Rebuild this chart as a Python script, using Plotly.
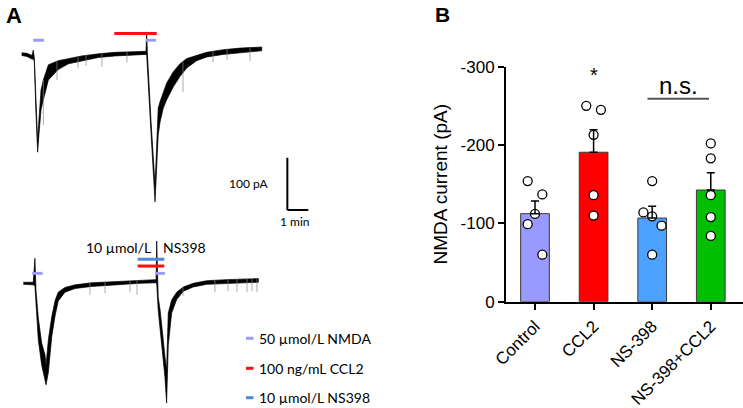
import numpy as np
import plotly.graph_objects as go

W, H = 743, 408

# ---------------- Panel A data: time (min) and current (pA) ----------------
top_t = [0.00, 0.25, 0.49, 0.55, 0.60, 0.68, 0.76, 0.82, 0.92, 1.03, 1.27, 1.74, 2.22, 2.86, 3.65,
         4.44, 5.30, 5.92, 5.95, 5.99, 6.16, 6.35, 6.42, 6.50, 6.59, 6.74, 6.90, 7.22, 7.54, 7.86,
         8.33, 8.81, 9.60, 10.40, 11.43]
top_hi = [-1, -2, -6, 4, -10, -99, -172, -130, -72, -53, -24, -16, -12, -7, -3,
          0, 1, 2, 39, -5, -133, -254, -187, -107, -94, -75, -59, -37, -22, -12,
          -6, 0, 5, 8, 10]
top_lo = [-6, -8, -13, -13, -17, -118, -191, -158, -110, -91, -53, -33, -22, -16, -10,
          -7, -5, -4, -4, -15, -156, -286, -225, -158, -133, -107, -91, -66, -46, -30,
          -16, -9, -4, -1, 3]
top_spike_t = [1.03, 1.68, 2.68, 3.06, 3.82, 5.01, 7.68, 9.11, 9.78, 10.87]
top_spike_pa = [-139, -53, -30, -26, -28, -19, -76, -19, -15, -17]

bot_t = [0.08, 0.55, 0.63, 0.68, 0.79, 0.95, 1.11, 1.16, 1.27, 1.43, 1.59, 1.74, 2.06, 2.54, 3.33,
         4.44, 5.63, 6.40, 6.43, 6.50, 6.59, 6.67, 6.74, 6.82, 6.90, 6.98, 7.14, 7.38, 7.70, 8.17,
         8.81, 9.76, 11.27]
bot_hi = [2, 2, 48, -13, -66, -114, -137, -156, -108, -64, -33, -17, -8, -3, 1,
          3, 6, 7, 81, -26, -51, -76, -108, -140, -166, -57, -32, -17, -7, 0,
          5, 7, 9]
bot_lo = [-2, -3, -5, -41, -108, -156, -185, -194, -170, -102, -62, -34, -17, -10, -6,
          -3, 0, 1, -1, -51, -76, -108, -147, -179, -229, -118, -57, -31, -15, -7,
          -2, 0, 2]
bot_spike_t = [3.25, 3.97, 5.16, 5.49, 7.68, 9.20, 9.82, 10.25, 10.73, 10.97, 11.20]
bot_spike_pa = [-22, -19, -17, -22, -24, -17, -15, -17, -17, -15, -17]

# drug applications (start, end) in min
top_nmda = [(0.55, 1.06), (5.90, 6.40)]
top_ccl2 = [(4.41, 6.43)]
bot_nmda = [(0.50, 1.00), (6.35, 6.82)]
bot_ccl2 = [(5.52, 6.79)]
bot_ns398 = [(5.52, 6.79)]

legend_labels = ["50 µmol/L NMDA", "100 ng/mL CCL2", "10 µmol/L NS398"]
ns_label = ["10 µmol/L", "NS398"]
scale_labels = ["100 pA", "1 min"]
SCALE_PA, SCALE_MIN = 100, 1

# ---------------- Panel B data: NMDA current (pA) ----------------
categories = ["Control", "CCL2", "NS-398", "NS-398+CCL2"]
control = [-154, -137, -112, -99, -60]
ccl2 = [-250, -245, -213, -136, -110]
ns398 = [-154, -114, -109, -97, -60]
ns398_ccl2 = [-202, -183, -136, -108, -84]
y_ticks = [0, -100, -200, -300]

# ---------------- styles / layout constants ----------------
NMDA_C, CCL2_C, NS_C = "#9C9CF2", "#FF1010", "#4F88DA"
BAR_COLORS = ["#9999FF", "#FF0000", "#4DA2FF", "#00BE00"]
JITTER = [[-0.125, 0.125, 0, -0.125, 0.125],
          [-0.125, 0.125, 0, 0, 0],
          [0, -0.15, 0, 0.16, 0],
          [0, 0, 0, 0, 0]]
FA = "Lato, Noto Sans, sans-serif"
FB = "Liberation Sans, Arial, sans-serif"


def px(x):
    return x / W


def py(y):
    return 1 - y / H


# panel A mapping
X0_PX, PX_PER_MIN, PX_PER_PA = 21.7, 21.0, 0.523
A_DOM_PX = 334.35
TOP_BASE, BOT_BASE, SPLIT = 52.3, 283.3, 215.0
xr_A = [(0 - X0_PX) / PX_PER_MIN, (A_DOM_PX - X0_PX) / PX_PER_MIN]
yr_top = [(TOP_BASE - SPLIT) / PX_PER_PA, (TOP_BASE - 0) / PX_PER_PA]
yr_bot = [(BOT_BASE - H) / PX_PER_PA, (BOT_BASE - SPLIT) / PX_PER_PA]

fig = go.Figure()


def add_trace(t, hi, lo, st, sp, xa, ya):
    fig.add_trace(go.Scatter(
        x=list(t) + list(t)[::-1], y=list(hi) + list(lo)[::-1],
        fill="toself", fillcolor="black", mode="lines",
        line=dict(color="black", width=0.7), xaxis=xa, yaxis=ya,
        hoverinfo="skip", showlegend=False))
    xs, ys = [], []
    for tt, pp in zip(st, sp):
        base = float(np.interp(tt, t, hi))
        xs += [tt, tt, None]
        ys += [base, pp, None]
    fig.add_trace(go.Scatter(x=xs, y=ys, mode="lines",
                             line=dict(color="#888", width=0.7),
                             xaxis=xa, yaxis=ya, hoverinfo="skip", showlegend=False))


add_trace(top_t, top_hi, top_lo, top_spike_t, top_spike_pa, "x", "y")
add_trace(bot_t, bot_hi, bot_lo, bot_spike_t, bot_spike_pa, "x2", "y2")

shapes = []


def drug(intervals, level, color, xr, yr):
    for a, b in intervals:
        shapes.append(dict(type="line", xref=xr, yref=yr, x0=a, x1=b, y0=level, y1=level,
                           line=dict(color=color, width=3)))


drug(top_nmda, 23, NMDA_C, "x", "y")
drug(top_ccl2, 36, CCL2_C, "x", "y")
drug(bot_nmda, 19, NMDA_C, "x2", "y2")
drug(bot_ccl2, 33, CCL2_C, "x2", "y2")
drug(bot_ns398, 46, NS_C, "x2", "y2")

# scale bar
SB_X, SB_Y = 12.65, -301.5
shapes.append(dict(type="line", xref="x", yref="y", x0=SB_X, x1=SB_X, y0=SB_Y, y1=SB_Y + SCALE_PA,
                   line=dict(color="black", width=2)))
shapes.append(dict(type="line", xref="x", yref="y", x0=SB_X, x1=SB_X + SCALE_MIN, y0=SB_Y, y1=SB_Y,
                   line=dict(color="black", width=2)))

# legend A
LEG_Y = [338.3, 368.3, 397.7]
for i, col in enumerate([NMDA_C, CCL2_C, NS_C]):
    shapes.append(dict(type="line", xref="paper", yref="paper", x0=px(246), x1=px(253.5),
                       y0=py(LEG_Y[i]), y1=py(LEG_Y[i]), line=dict(color=col, width=3)))

annotations = []


def ann(text, x, y, xanchor="center", yanchor="middle", size=14, family=FA, bold=False, **kw):
    annotations.append(dict(text=("<b>%s</b>" % text) if bold else text, x=px(x), y=py(y),
                            xref="paper", yref="paper", xanchor=xanchor, yanchor=yanchor,
                            showarrow=False, font=dict(size=size, family=family, color="black"), **kw))


for i, lab in enumerate(legend_labels):
    ann(lab, 256.5, LEG_Y[i], xanchor="left", size=14)
ann(ns_label[0], 152.5, 247.5, xanchor="right", size=14)
ann(ns_label[1], 160.5, 247.5, xanchor="left", size=14)
ann(scale_labels[0], 271, 183.5, xanchor="right", size=12)
ann(scale_labels[1], 294, 221.5, size=12)
ann("A", 4, 1, xanchor="left", yanchor="top", size=22, family=FB, bold=True)
ann("B", 433, 1, xanchor="left", yanchor="top", size=21, family=FB, bold=True)

# ---------------- Panel B ----------------
groups = [control, ccl2, ns398, ns398_ccl2]
means = [float(np.mean(g)) for g in groups]
sems = [float(np.std(g, ddof=1) / np.sqrt(len(g))) for g in groups]
xpos = list(range(len(categories)))

fig.add_trace(go.Bar(x=xpos, y=means, width=0.49,
                     marker=dict(color=BAR_COLORS, line=dict(color="#3a3a3a", width=1)),
                     xaxis="x3", yaxis="y3", showlegend=False, hoverinfo="skip"))
pxs, pys = [], []
for i, g in enumerate(groups):
    for j, v in enumerate(g):
        pxs.append(i + JITTER[i][j])
        pys.append(v)
fig.add_trace(go.Scatter(x=pxs, y=pys, mode="markers",
                         marker=dict(size=9, color="white", line=dict(color="black", width=1.3)),
                         xaxis="x3", yaxis="y3", showlegend=False, hoverinfo="skip", cliponaxis=False))
fig.add_trace(go.Scatter(x=xpos, y=means, mode="markers", marker=dict(size=1, color="rgba(0,0,0,0)"),
                         error_y=dict(type="data", symmetric=False, array=[0] * 4, arrayminus=sems,
                                      color="black", thickness=1.5, width=4),
                         xaxis="x3", yaxis="y3", showlegend=False, hoverinfo="skip"))

shapes.append(dict(type="line", xref="x3", yref="y3", x0=1.92, x1=2.97, y0=-259, y1=-259,
                   line=dict(color="#555", width=2)))
annotations.append(dict(text="n.s.", x=2.445, y=-259, xref="x3", yref="y3", yanchor="bottom",
                        showarrow=False, yshift=-2, font=dict(size=24, family=FB, color="black")))
annotations.append(dict(text="*", x=1, y=-300, xref="x3", yref="y3", yanchor="middle",
                        showarrow=False, yshift=-8, font=dict(size=20, family=FB, color="black")))

hidden = dict(visible=False, showgrid=False, zeroline=False, fixedrange=True, automargin=False)
fig.update_layout(
    width=W, height=H, margin=dict(l=0, r=0, t=0, b=0, autoexpand=False),
    paper_bgcolor="white", plot_bgcolor="rgba(0,0,0,0)",
    xaxis=dict(domain=[0, px(A_DOM_PX)], range=xr_A, anchor="y", **hidden),
    yaxis=dict(domain=[py(SPLIT), 1], range=yr_top, anchor="x", **hidden),
    xaxis2=dict(domain=[0, px(A_DOM_PX)], range=xr_A, anchor="y2", **hidden),
    yaxis2=dict(domain=[0, py(SPLIT)], range=yr_bot, anchor="x2", **hidden),
    xaxis3=dict(domain=[px(506), 1], range=[-0.495, 3.55], anchor="y3", automargin=False,
                tickvals=xpos, ticktext=categories, tickangle=-45,
                showline=True, linecolor="black", linewidth=2, ticks="outside", ticklen=6,
                tickwidth=2, tickcolor="black", showgrid=False, zeroline=False,
                tickfont=dict(size=17, family=FB, color="black")),
    yaxis3=dict(domain=[py(301.7), py(66.7)], range=[0, -300], anchor="x3", automargin=False,
                tickvals=y_ticks, ticktext=[str(v) for v in y_ticks],
                showline=True, linecolor="black", linewidth=2, ticks="outside", ticklen=6,
                tickwidth=2, tickcolor="black", showgrid=False, zeroline=False,
                tickfont=dict(size=17, family=FB, color="black"),
                title=dict(text="NMDA current (pA)", standoff=8,
                           font=dict(size=19, family=FB, color="black"))),
    shapes=shapes, annotations=annotations,
)

fig.write_html("out.html", config={"displayModeBar": False, "staticPlot": True},
               post_script="document.body.style.margin='0';document.body.style.padding='0';"
                           "document.body.style.overflow='hidden';")
